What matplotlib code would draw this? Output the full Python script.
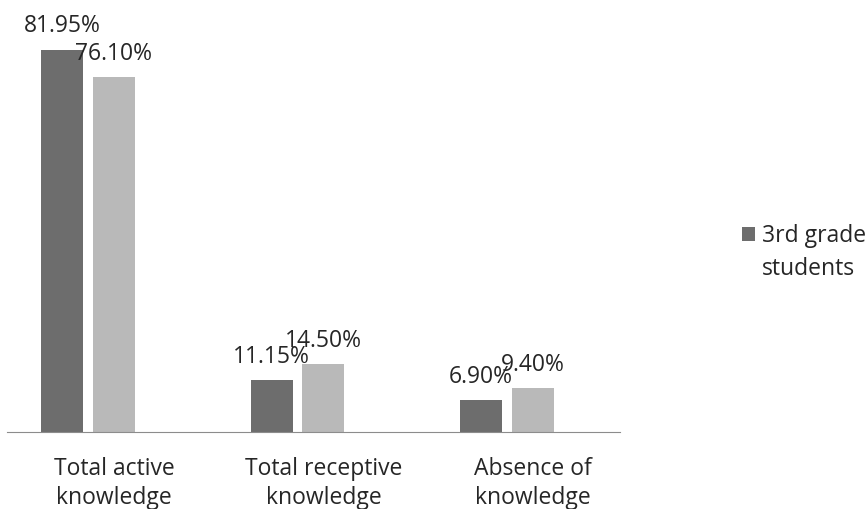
import matplotlib.pyplot as plt
import matplotlib.transforms as mtrans
import numpy as np

categories = ["Total active\nknowledge", "Total receptive\nknowledge", "Absence of\nknowledge"]
grade3 = [81.95, 11.15, 6.90]
other = [76.10, 14.50, 9.40]
grade3_labels = ["81.95%", "11.15%", "6.90%"]
other_labels = ["76.10%", "14.50%", "9.40%"]

plt.rcParams["font.family"] = ["Open Sans", "DejaVu Sans"]
fs = 16.5
txt = "#262626"

fig = plt.figure(figsize=(8.66, 5.09), dpi=100)
ax = fig.add_axes([7 / 866, 77 / 509, 613 / 866, 420 / 509])

x = np.arange(len(categories))
w = 0.2
off = 0.123
b1 = ax.bar(x - off, grade3, w, color="#6d6d6d", label="3rd grade")
b2 = ax.bar(x + off, other, w, color="#b9b9b9")

for bars, labels in [(b1, grade3_labels), (b2, other_labels)]:
    for bar, lab in zip(bars, labels):
        ax.annotate(lab, (bar.get_x() + bar.get_width() / 2, bar.get_height()),
                    xytext=(0, 8), textcoords="offset points", ha="center", va="bottom",
                    fontsize=fs, color=txt)

ax.set_xlim(-0.387, 2.54)
ax.set_ylim(0, 90)
ax.set_xticks(x)
ax.set_xticklabels(categories, fontsize=fs, color=txt, linespacing=1.25)
ax.tick_params(axis="x", length=0, pad=18)
# category labels sit a little right of the bar groups in the original
shift = mtrans.ScaledTranslation(26 / 100, 0, fig.dpi_scale_trans)
for lab in ax.get_xticklabels():
    lab.set_transform(lab.get_transform() + shift)
ax.set_yticks([])
for s in ["top", "right", "left"]:
    ax.spines[s].set_visible(False)
ax.spines["bottom"].set_color("#8c8c8c")

fig.legend(handles=[b1], loc="upper left", bbox_to_anchor=(742 / 866, 1 - 224 / 509),
           frameon=False, fontsize=fs, handlelength=0.57, handleheight=0.6,
           handletextpad=0.3, borderpad=0, borderaxespad=0, labelcolor=txt)
fig.text(762 / 866, 1 - 275 / 509, "students", fontsize=fs, color=txt,
         ha="left", va="baseline")

fig.savefig("out.png", dpi=100)
